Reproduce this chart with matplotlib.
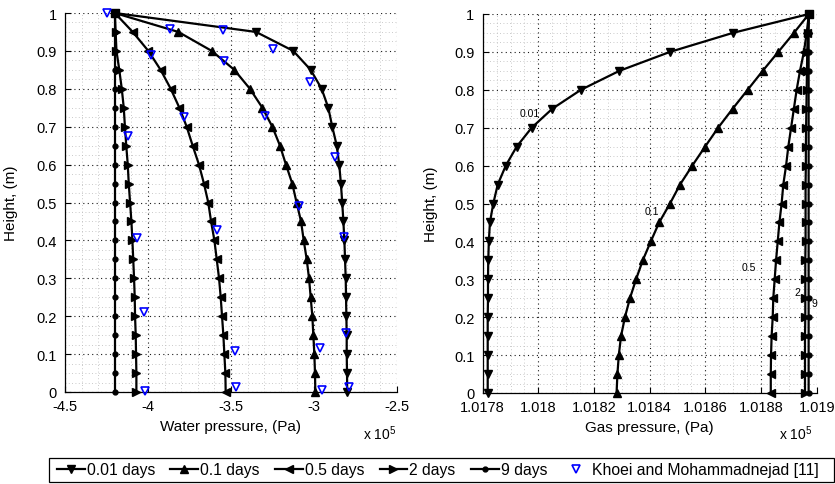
import numpy as np
import matplotlib
matplotlib.use('Agg')
import matplotlib.pyplot as plt
from matplotlib.ticker import MultipleLocator, FormatStrFormatter
from matplotlib.patches import Rectangle

plt.rcParams['font.family'] = ['Liberation Sans', 'DejaVu Sans']
plt.rcParams['mathtext.fontset'] = 'custom'
plt.rcParams['mathtext.rm'] = 'Liberation Sans'
plt.rcParams['axes.unicode_minus'] = True

# ---------------- data ----------------
height = [0.00, 0.05, 0.10, 0.15, 0.20, 0.25, 0.30, 0.35, 0.40, 0.45, 0.50,
          0.55, 0.60, 0.65, 0.70, 0.75, 0.80, 0.85, 0.90, 0.95, 1.00]

# water pressure (x 1e5 Pa)
water_001 = [-2.800, -2.801, -2.803, -2.803, -2.805, -2.807, -2.809, -2.813, -2.817, -2.823, -2.830,
             -2.838, -2.848, -2.863, -2.890, -2.914, -2.954, -3.020, -3.125, -3.349, -4.200]
water_01 = [-2.992, -2.994, -2.998, -3.004, -3.010, -3.020, -3.030, -3.044, -3.062, -3.078, -3.105,
            -3.131, -3.169, -3.205, -3.251, -3.311, -3.386, -3.480, -3.616, -3.817, -4.200]
water_05 = [-3.532, -3.534, -3.540, -3.546, -3.554, -3.562, -3.572, -3.586, -3.600, -3.620, -3.637,
            -3.663, -3.693, -3.731, -3.767, -3.811, -3.863, -3.924, -3.998, -4.092, -4.200]
water_2 = [-4.070, -4.070, -4.072, -4.074, -4.078, -4.080, -4.084, -4.089, -4.094, -4.100, -4.108,
           -4.116, -4.122, -4.131, -4.139, -4.146, -4.158, -4.173, -4.190, -4.195, -4.200]
water_9 = [-4.200, -4.200, -4.200, -4.200, -4.200, -4.200, -4.200, -4.200, -4.200, -4.200, -4.200,
           -4.200, -4.200, -4.200, -4.200, -4.200, -4.200, -4.200, -4.200, -4.200, -4.200]

# reference data (Khoei and Mohammadnejad)
khoei_p = [-4.245, -3.867, -3.546, -3.249, -3.984, -3.542, -3.024, -3.783, -3.295, -4.122, -2.873,
           -3.090, -3.582, -4.064, -2.817, -4.022, -2.807, -3.476, -2.964, -3.472, -4.018, -2.950, -2.789]
khoei_h = [1.000, 0.958, 0.955, 0.905, 0.889, 0.874, 0.819, 0.725, 0.729, 0.676, 0.619,
           0.492, 0.427, 0.406, 0.408, 0.210, 0.155, 0.107, 0.117, 0.012, 0.002, 0.006, 0.012]

# gas pressure (x 1e5 Pa)
gas_001 = [1.017818, 1.017818, 1.017818, 1.017818, 1.017818, 1.017819, 1.017819, 1.017820, 1.017822, 1.017826, 1.017838,
           1.017854, 1.017883, 1.017922, 1.017976, 1.018050, 1.018153, 1.018291, 1.018473, 1.018698, 1.018972]
gas_01 = [1.018281, 1.018284, 1.018289, 1.018297, 1.018311, 1.018329, 1.018351, 1.018375, 1.018404, 1.018434, 1.018473,
          1.018509, 1.018553, 1.018599, 1.018646, 1.018698, 1.018752, 1.018806, 1.018862, 1.018918, 1.018972]
gas_05 = [1.018835, 1.018835, 1.018836, 1.018838, 1.018842, 1.018844, 1.018849, 1.018854, 1.018860, 1.018866, 1.018874,
          1.018880, 1.018890, 1.018898, 1.018908, 1.018918, 1.018928, 1.018940, 1.018954, 1.018964, 1.018972]
gas_2 = [1.018958, 1.018958, 1.018958, 1.018958, 1.018959, 1.018959, 1.018959, 1.018959, 1.018960, 1.018960, 1.018960,
         1.018960, 1.018961, 1.018961, 1.018962, 1.018963, 1.018964, 1.018965, 1.018966, 1.018968, 1.018972]
gas_9 = [1.018971, 1.018971, 1.018971, 1.018971, 1.018971, 1.018971, 1.018971, 1.018971, 1.018971, 1.018971, 1.018971,
         1.018971, 1.018971, 1.018971, 1.018971, 1.018971, 1.018971, 1.018971, 1.018971, 1.018971, 1.018972]

series_labels = ['0.01 days', '0.1 days', '0.5 days', '2 days', '9 days']
curve_labels = ['0.01', '0.1', '0.5', '2', '9']
curve_label_x = [1.01797, 1.018407, 1.018757, 1.018932, 1.018991]
curve_label_y = [0.740, 0.479, 0.333, 0.266, 0.237]
khoei_label = 'Khoei and Mohammadnejad [11]'

# ---------------- styling ----------------
markers = ['v', '^', '<', '>', 'o']
msizes = [6, 6, 6, 6, 3.5]
W, H = 835, 485

fig = plt.figure(figsize=(W / 100, H / 100), dpi=100)
ax1 = fig.add_axes([65 / W, 1 - 393 / H, 332 / W, 379 / H])
ax2 = fig.add_axes([482.7 / W, 1 - 394 / H, 334 / W, 379 / H])


def style(ax, xmaj, xmin):
    ax.set_ylim(0, 1)
    ax.yaxis.set_major_locator(MultipleLocator(0.1))
    ax.yaxis.set_minor_locator(MultipleLocator(0.025))
    ax.xaxis.set_major_locator(MultipleLocator(xmaj))
    ax.xaxis.set_minor_locator(MultipleLocator(xmin))
    ax.yaxis.set_major_formatter(FormatStrFormatter('%g'))
    ax.xaxis.set_major_formatter(FormatStrFormatter('%g'))
    for s in ['top', 'right']:
        ax.spines[s].set_visible(False)
    for s in ['left', 'bottom']:
        ax.spines[s].set_linewidth(0.9)
    ax.tick_params(which='major', direction='in', length=4, width=0.8, labelsize=10.5,
                   top=False, right=False)
    ax.tick_params(axis='x', which='major', pad=5)
    ax.tick_params(axis='y', which='major', pad=6)
    ax.tick_params(which='minor', length=0, top=False, right=False)
    ax.grid(True, which='major', color='0.1', linestyle=(0, (1, 3)), linewidth=0.8)
    ax.grid(True, which='minor', color='0.72', linestyle=(0, (1, 3)), linewidth=0.6)
    ax.set_axisbelow(True)
    ax.set_ylabel('Height, (m)', fontsize=11)


handles = []
for vals, mk, ms, lab in zip([water_001, water_01, water_05, water_2, water_9],
                             markers, msizes, series_labels):
    h, = ax1.plot(vals, height, color='k', lw=1.6, marker=mk, ms=ms,
                  mfc='k', mec='k', label=lab, clip_on=False, zorder=3)
    handles.append(h)
kh, = ax1.plot(khoei_p, khoei_h, linestyle='none', marker='v', ms=5.5, mfc='none',
               mec='#0000ff', mew=1.2, label=khoei_label, clip_on=False, zorder=4)
handles.append(kh)

for vals, mk, ms in zip([gas_001, gas_01, gas_05, gas_2, gas_9], markers, msizes):
    ax2.plot(vals, height, color='k', lw=1.6, marker=mk, ms=ms, mfc='k', mec='k',
             clip_on=False, zorder=3)
for lx, ly, t in zip(curve_label_x, curve_label_y, curve_labels):
    ax2.text(lx, ly, t, fontsize=7.5, ha='center', va='center')

ax1.set_xlim(-4.5, -2.5)
style(ax1, 0.5, 0.1)
ax2.set_xlim(1.0178, 1.019)
style(ax2, 0.0002, 0.00005)

ax1.set_xlabel('Water pressure, (Pa)', fontsize=11)
ax2.set_xlabel('Gas pressure, (Pa)', fontsize=11)
ax1.xaxis.set_label_coords(0.5, -0.072)
ax2.xaxis.set_label_coords(0.5, -0.072)
ax1.yaxis.set_label_coords(-0.143, 0.5)
ax2.yaxis.set_label_coords(-0.135, 0.5)

fig.text(363 / W, 1 - 440 / H, r'x 10$^{5}$', fontsize=10, ha='left', va='baseline')
fig.text(779 / W, 1 - 440 / H, r'x 10$^{5}$', fontsize=10, ha='left', va='baseline')

# legend box (frame drawn separately to match the reference extent)
fig.patches.append(Rectangle((49 / W, 1 - 483 / H), 785 / W, 24 / H,
                             transform=fig.transFigure, facecolor='white',
                             edgecolor='k', linewidth=0.9, zorder=1))
leg = fig.legend(handles=handles, loc='center left', ncol=6,
                 bbox_to_anchor=(57 / W, 1 - 471 / H),
                 fontsize=11.3, frameon=False,
                 handlelength=1.78, handletextpad=0.13, columnspacing=0.96,
                 borderaxespad=0, borderpad=0)
leg.set_zorder(2)

fig.savefig('out.png', dpi=100)
